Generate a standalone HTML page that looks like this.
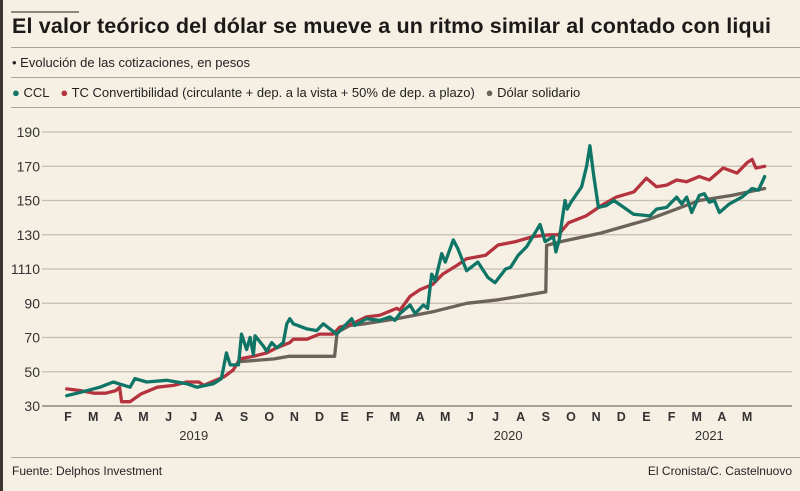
<!DOCTYPE html>
<html><head><meta charset="utf-8"><style>
body{margin:0;background:#f6efe3;}
#wrap{position:relative;width:800px;height:491px;background:#f6efe3;font-family:"Liberation Sans",sans-serif;overflow:hidden;border-left:3px solid #3a3530;box-sizing:border-box}
.t{position:absolute;white-space:nowrap;color:#222}
.hl{position:absolute;height:1px;background:#a9a298}
</style></head><body>
<div id="wrap">
<div class="hl" style="left:8px;top:11px;width:68px;height:2px;background:#8c857b"></div>
<div class="t" style="left:9px;top:14px;font-size:21.5px;font-weight:bold;color:#1c1a18;letter-spacing:0.15px">El valor teórico del dólar se mueve a un ritmo similar al contado con liqui</div>
<div class="hl" style="left:8px;top:47px;width:792px"></div>
<div class="t" style="left:9px;top:55px;font-size:13px">• Evolución de las cotizaciones, en pesos</div>
<div class="hl" style="left:8px;top:77px;width:792px"></div>
<div class="t" style="left:9px;top:85px;font-size:13px">
<span><span style="color:#0f7566">●</span> CCL</span>&nbsp;&nbsp;
<span><span style="color:#b5333f">●</span> TC Convertibilidad (circulante + dep. a la vista + 50% de dep. a plazo)</span>&nbsp;&nbsp;
<span><span style="color:#6b625a">●</span> Dólar solidario</span></div>
<div class="hl" style="left:8px;top:107px;width:792px"></div>
<svg id="chart" width="800" height="491" style="position:absolute;left:-3px;top:0"></svg>
<div class="hl" style="left:8px;top:457px;width:792px"></div>
<div class="t" style="left:9px;top:464px;font-size:12px">Fuente: Delphos Investment</div>
<div class="t" style="right:8px;top:464px;font-size:12px">El Cronista/C. Castelnuovo</div>
</div>
<script>
const yTicks=[30,50,70,90,110,130,150,170,190];
const yTickLabels=["30","50","70","90","1110","130","150","170","190"];
const monthLabels=["F","M","A","M","J","J","A","S","O","N","D","E","F","M","A","M","J","J","A","S","O","N","D","E","F","M","A","M"];
const yearLabels=["2019","2020","2021"];
const yearMonthPos=[5,17.5,25.5];
const cclT=[-0.05,0.5,1.27,1.8,2.47,2.66,3.13,3.92,4.72,5.12,5.78,6.1,6.3,6.45,6.78,6.9,7.1,7.24,7.37,7.44,7.77,7.9,8.1,8.3,8.56,8.7,8.82,8.96,9.5,9.89,10.15,10.68,10.95,11.28,11.4,11.87,12.4,12.8,13.0,13.2,13.6,13.8,14.13,14.3,14.46,14.6,14.86,15.0,15.32,15.5,15.85,16.3,16.7,16.98,17.4,17.6,17.9,18.24,18.77,18.97,19.3,19.4,19.53,19.76,19.85,20.0,20.42,20.62,20.75,20.9,21.09,21.4,21.7,22.1,22.48,23.14,23.4,23.8,24.2,24.4,24.6,24.8,25.1,25.3,25.5,25.7,25.9,26.3,26.8,27.2,27.45,27.7];
const cclV=[36,38,41,44,41,46,44,45,43,41,43,46,61,54,54,72,63,70,60,71,65,62,67,64,67,78,81,78,75,74,78,72,76,81,77,81,80,82,80,84,89,84,89,87,107,103,119,114,127,122,109,114,105,102,110,111,118,123,136,126,129,120,127,150,145,149,158,170,182,165,146,147,150,146,142,141,145,146,152,148,152,143,153,154,149,150,143,148,152,157,156,164];
const tcT=[-0.05,0.5,1.05,1.5,1.9,2.05,2.13,2.47,2.9,3.55,4.2,4.72,5.2,5.4,5.7,6.2,6.57,6.84,7.37,7.9,8.3,8.82,8.96,9.5,10.0,10.55,10.8,11.3,11.87,12.4,13.07,13.2,13.6,14.0,14.5,14.9,15.45,15.85,16.6,17.1,17.8,18.5,19.15,19.5,19.9,20.6,21.2,21.8,22.5,23.0,23.4,23.8,24.2,24.6,25.1,25.5,26.05,26.6,27.0,27.2,27.35,27.7];
const tcV=[40,39,37.5,37.5,39,41,32.5,32.5,37,41,42,44,44,42,44,47,51,57.5,59,61,64,67,69,69,72,72,76,78,82,83,87,86,94,98,101,107,112,116,118,124,126,129,130,130,137,141,147,152,155,163,158,159,162,161,164,162,169,166,172,174,169,170];
const solT=[6.9,8.2,8.8,10.6,10.7,11.2,11.8,13.07,14.5,15.85,17.1,19.0,19.03,19.6,21.2,23.1,25.1,26.4,27.7];
const solV=[56,57.5,59,59,73,77,78,81,85,90,92,96.6,123.8,126,131,139,150,153,157];
const svg=document.getElementById('chart');const NS='http://www.w3.org/2000/svg';
const x0=68,dx=25.15,yBase=406,pxU=1.7125;
const X=t=>x0+t*dx, Y=v=>yBase-(v-30)*pxU;
function mk(tag,attrs){const e=document.createElementNS(NS,tag);for(const k in attrs)e.setAttribute(k,attrs[k]);svg.appendChild(e);return e;}
yTicks.forEach((v,i)=>{
 const l=mk('line',{x1:42,x2:792,y1:Y(v),y2:Y(v),stroke:i==0?'#8d867c':'#c4bcaf','stroke-width':i==0?1.5:1.2});
 
 
 const tx=mk('text',{x:40,y:Y(v)+5,'text-anchor':'end','font-size':14,fill:'#333','font-family':'Liberation Sans, sans-serif'});
 tx.textContent=yTickLabels[i];
 
 
});
monthLabels.forEach((m,i)=>{
 const tx=mk('text',{x:X(i),y:421,'text-anchor':'middle','font-size':12.5,'font-weight':'bold',fill:'#333','font-family':'Liberation Sans, sans-serif'});
 tx.textContent=m;
 
 
});
yearLabels.forEach((y,i)=>{
 const tx=mk('text',{x:X(yearMonthPos[i]),y:440,'text-anchor':'middle','font-size':13,fill:'#333','font-family':'Liberation Sans, sans-serif'});
 tx.textContent=y;
 
 
});
function series(T,V,color,name){
 const d=T.map((t,i)=>(i?'L':'M')+X(t).toFixed(1)+' '+Y(V[i]).toFixed(1)).join(' ');
 const p=mk('path',{d:d,fill:'none',stroke:color,'stroke-width':3.3,'stroke-linejoin':'round','stroke-linecap':'round'});
 
 
}
series(solT,solV,'#6b625a','line-dolar-solidario');
series(tcT,tcV,'#b5333f','line-tc-convertibilidad');
series(cclT,cclV,'#0f7566','line-ccl');
</script>
</body></html>
